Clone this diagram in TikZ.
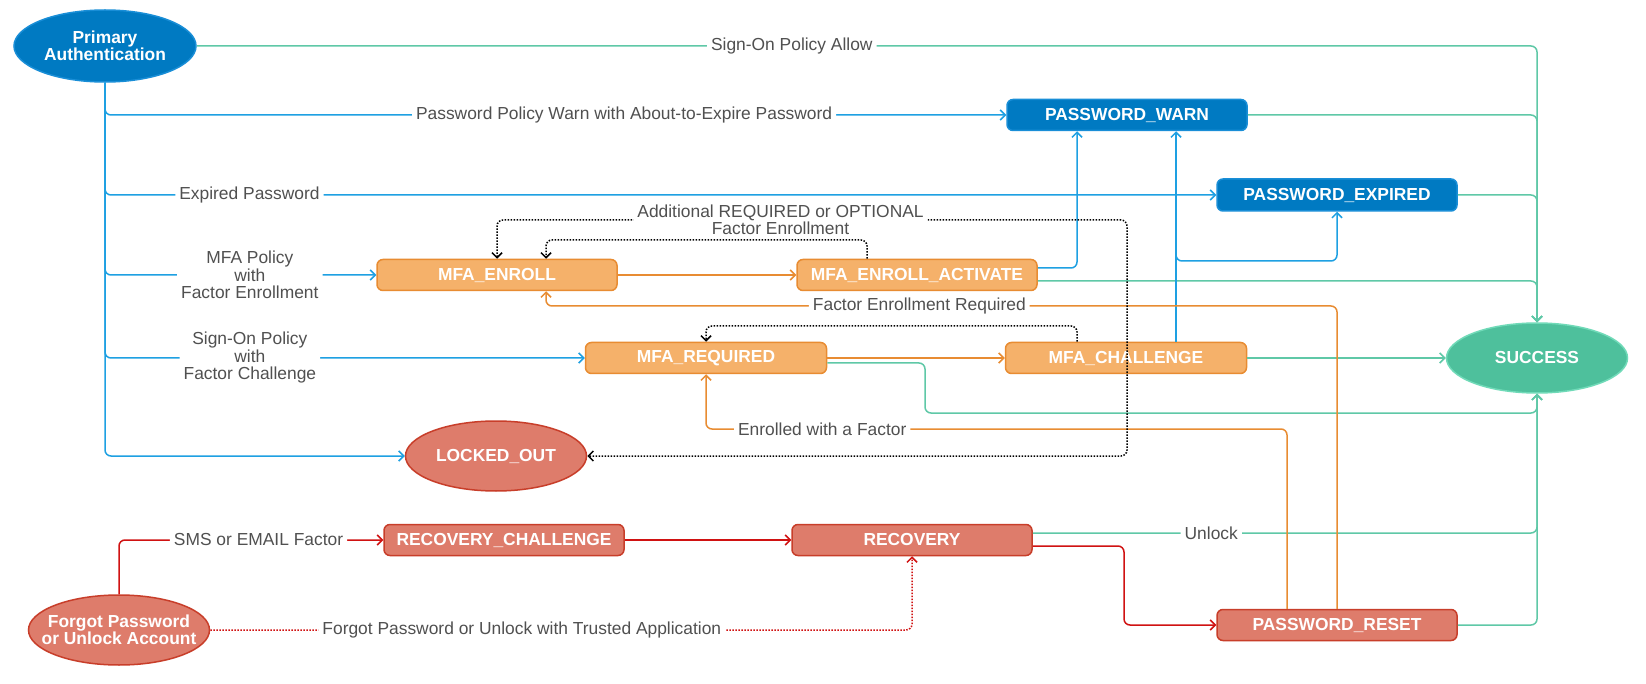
\documentclass[tikz,border=0pt]{standalone}
\usepackage{fontspec}
\setmainfont{Liberation Sans}
\usepackage{xcolor}
\usepackage{tikz}
\usetikzlibrary{arrows.meta,shapes.geometric}
\newcommand{\statefont}{\fontsize{17.4}{17.4}\selectfont\bfseries}
\newcommand{\lblfont}{\fontsize{17.4}{17.5}\selectfont}
\definecolor{clrB}{RGB}{0,122,194}
\definecolor{clrBd}{RGB}{25,142,215}
\definecolor{clrLB}{RGB}{30,160,226}
\definecolor{clrG}{RGB}{78,192,156}
\definecolor{clrGd}{RGB}{112,218,184}
\definecolor{clrGl}{RGB}{95,200,167}
\definecolor{clrO}{RGB}{245,177,106}
\definecolor{clrOd}{RGB}{232,140,50}
\definecolor{clrR}{RGB}{222,124,107}
\definecolor{clrRd}{RGB}{200,62,42}
\definecolor{clrRl}{RGB}{208,18,18}
\definecolor{clrT}{RGB}{80,80,80}
\tikzset{
  state/.style={rectangle,rounded corners=6pt,minimum width=240pt,minimum height=31pt,
    line width=1.5pt,font=\statefont,text=white,inner sep=2pt},
  stateB/.style={state,draw=clrBd,fill=clrB},
  stateO/.style={state,draw=clrOd,fill=clrO},
  stateR/.style={state,draw=clrRd,fill=clrR},
  oval/.style={ellipse,minimum width=181pt,minimum height=70pt,line width=1.5pt,
    font=\statefont,text=white,align=center,inner sep=0pt},
  ovalB/.style={oval,draw=clrBd,fill=clrB},
  ovalG/.style={oval,draw=clrGd,fill=clrG},
  ovalR/.style={oval,draw=clrRd,fill=clrR},
  arrow/.style={-{Straight Barb[length=5pt,width=10pt]},line width=1.5pt,rounded corners=6pt},
  authline/.style={arrow,color=clrLB},
  okline/.style={arrow,color=clrGl},
  mfaline/.style={arrow,color=clrOd},
  recline/.style={arrow,color=clrRl},
  loopline/.style={arrow,color=black,dash pattern=on 1.5pt off 1.5pt},
  lbl/.style={font=\lblfont,text=clrT,fill=white,inner sep=4pt,align=center}
}
\begin{document}
\begin{tikzpicture}[x=1pt,y=-1pt]
  \useasboundingbox[fill=white] (0,0) rectangle (1646,684);

  % states
  \node[ovalB,minimum width=182pt,minimum height=72pt] (primary) at (105,46)
    {Primary\\Authentication};
  \node[stateB] (pwwarn) at (1127,115) {PASSWORD\_WARN};
  \node[stateB,minimum height=32pt] (pwexp) at (1337,195) {PASSWORD\_EXPIRED};
  \node[stateO] (enroll) at (497,275) {MFA\_ENROLL};
  \node[stateO] (activate) at (917,275) {MFA\_ENROLL\_ACTIVATE};
  \node[stateO,minimum width=241pt] (required) at (706,358) {MFA\_REQUIRED};
  \node[stateO,minimum width=241pt] (challenge) at (1126,358) {MFA\_CHALLENGE};
  \node[ovalG] (success) at (1537,358) {SUCCESS};
  \node[ovalR] (locked) at (496,456) {LOCKED\_OUT};
  \node[stateR] (recch) at (504,540) {RECOVERY\_CHALLENGE};
  \node[stateR] (recovery) at (912,540) {RECOVERY};
  \node[stateR] (pwreset) at (1337,625) {PASSWORD\_RESET};
  \node[ovalR,inner xsep=-20pt] (forgot) at (119,630)
    {Forgot Password\\or Unlock Account};

  % bends
  \coordinate (expturn) at (1176,261);
  \coordinate (reqbend) at (925,413);
  \coordinate (ferturn) at (1337,306);
  \coordinate (ewfturn) at (1287,429);
  \coordinate (addtop) at (1127,220);
  \coordinate (actloop) at (867,240);
  \coordinate (chloop) at (1077,326);
  \coordinate (rstbend) at (1124,546);

  % success paths
  \draw[okline] (primary.east)
    -| node[lbl,pos=0.222]{Sign-On Policy Allow} (success.north);
  \draw[okline] (pwwarn.east) -| (success.north);
  \draw[okline] (pwexp.east) -| (success.north);
  \draw[okline] ([yshift=-6pt]activate.east) -| (success.north);
  \draw[okline] (challenge.east) -- (success.west);
  \draw[okline] ([yshift=-5pt]required.east) -| (reqbend) -| (success.south);
  \draw[okline] (pwreset.east) -| (success.south);
  \draw[okline] ([yshift=7pt]recovery.east)
    -| node[lbl,pos=0.177]{Unlock} (success.south);

  % primary authentication
  \draw[authline] (primary.south) |- (locked.west);
  \draw[authline] (primary.south)
    |- node[lbl,pos=0.651]{Sign-On Policy\\with\\Factor Challenge} (required.west);
  \draw[authline] (primary.south)
    |- node[lbl,pos=0.767]{MFA Policy\\with\\Factor Enrollment} (enroll.west);
  \draw[authline] (primary.south)
    |- node[lbl,pos=0.565]{Expired Password} (pwexp.west);
  \draw[authline] (primary.south)
    |- node[lbl,pos=0.788]{Password Policy Warn with About-to-Expire Password} (pwwarn.west);

  \draw[authline] ([yshift=7pt]activate.east) -| ([xshift=-50pt]pwwarn.south);
  \draw[authline] ([xshift=50pt]challenge.north) -- ([xshift=49pt]pwwarn.south);
  \draw[authline] ([xshift=50pt]challenge.north) |- (expturn) -| (pwexp.south);

  % mfa
  \draw[mfaline] (enroll) -- (activate);
  \draw[mfaline] (required) -- (challenge);
  \draw[mfaline] (pwreset.north) -- (ferturn)
    -| node[lbl,pos=0.264]{Factor Enrollment Required} ([xshift=49pt]enroll.south);
  \draw[mfaline] (pwreset.north -| ewfturn) -- (ewfturn)
    -| node[lbl,pos=0.40]{Enrolled with a Factor} (required.south);

  \draw[loopline,{Straight Barb[length=5pt,width=10pt]}-{Straight Barb[length=5pt,width=10pt]}]
    (enroll.north) |- node[lbl,pos=0.725]{Additional REQUIRED or OPTIONAL\\Factor Enrollment}
    (addtop) |- (locked.east);
  \draw[loopline] ([xshift=-50pt]activate.north) -- (actloop) -| ([xshift=49pt]enroll.north);
  \draw[loopline] ([xshift=-49pt]challenge.north) -- (chloop) -| (required.north);

  % recovery
  \draw[recline] (forgot.north)
    |- node[lbl,pos=0.764]{SMS or EMAIL Factor} (recch.west);
  \draw[recline] (recch) -- (recovery);
  \draw[recline] ([yshift=-6pt]recovery.east) -- (rstbend) |- (pwreset.west);
  \draw[recline,dash pattern=on 1.5pt off 1.5pt] (forgot.east)
    -| node[lbl,pos=0.222]{Forgot Password or Unlock with Trusted Application} (recovery.south);
\end{tikzpicture}
\end{document}
